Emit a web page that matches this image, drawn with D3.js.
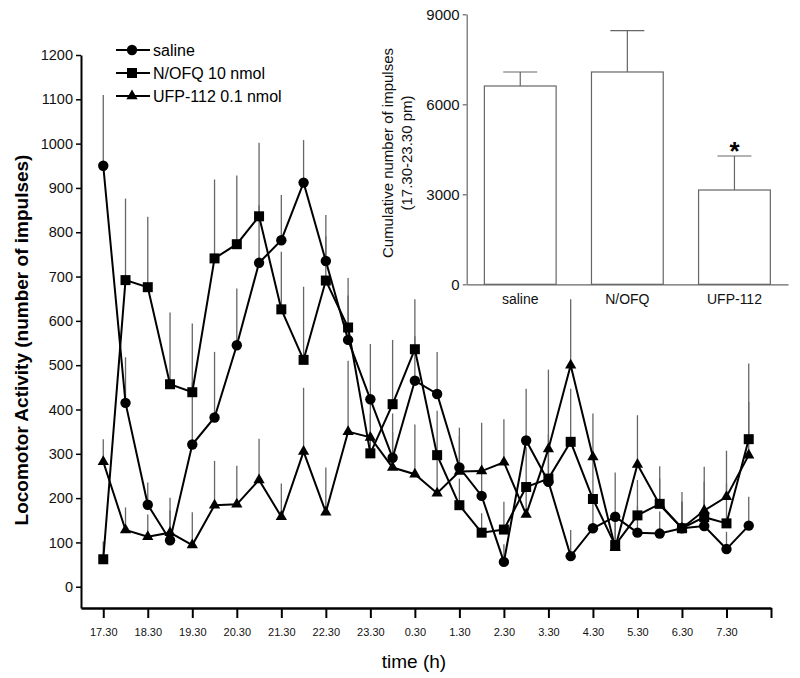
<!DOCTYPE html>
<html>
<head>
<meta charset="utf-8">
<script src="https://cdn.jsdelivr.net/npm/d3@7"></script>
<style>
  body { margin: 0; background: #fff; }
  svg { display: block; font-family: "Liberation Sans", Arial, sans-serif; }
</style>
</head>
<body>
<svg id="chart" width="800" height="678"></svg>
<script>
// ---- Data ----
const timeLabels = ["17.30","18.30","19.30","20.30","21.30","22.30","23.30","0.30","1.30","2.30","3.30","4.30","5.30","6.30","7.30"];
const yTicks = [0,100,200,300,400,500,600,700,800,900,1000,1100,1200];

const saline    = [950,415,185,105,321,382,545,731,782,912,735,557,423,291,465,435,269,205,56,330,237,69,132,158,122,120,132,137,85,138];
const salineErr = [160,103,50,96,140,148,128,130,102,96,104,100,125,100,100,95,90,70,40,117,80,59,70,100,60,50,82,60,39,65];

const nofq      = [62,692,676,457,439,741,773,836,626,512,691,585,301,412,536,297,184,122,129,225,244,327,198,94,161,187,132,157,143,333];
const nofqErr   = [40,184,159,162,155,178,155,166,130,165,100,112,90,145,113,100,60,44,63,90,100,120,90,60,80,85,60,80,90,171];

const ufp       = [282,128,113,122,94,184,186,241,158,305,168,350,337,269,254,211,260,261,281,163,311,500,293,88,276,185,132,172,203,297];
const ufpErr    = [51,51,50,50,74,100,87,93,75,144,101,160,80,80,112,80,80,109,97,60,179,149,98,60,111,60,60,99,104,120];

const seriesNames = ["saline","N/OFQ 10 nmol","UFP-112 0.1 nmol"];

const barCats = ["saline","N/OFQ","UFP-112"];
const barVals = [6610,7077,3143];
const barErr  = [467,1380,1134];
const barTicks = [0,3000,6000,9000];
const barSig = [false,false,true];

// ---- Setup ----
const svg = d3.select("#chart");
const FONT = '"Liberation Sans", Arial, sans-serif';

const x = d3.scaleLinear().domain([-0.5, 15]).range([81, 771]);
const y = d3.scaleLinear().domain([-48, 1200]).range([608, 55]);

const series = [
  {name: seriesNames[0], vals: saline, err: salineErr, sym: d3.symbolCircle, size: 85},
  {name: seriesNames[1], vals: nofq, err: nofqErr, sym: d3.symbolSquare, size: 100},
  {name: seriesNames[2], vals: ufp, err: ufpErr, sym: d3.symbolTriangle, size: 55}
];

// error bars (upper only)
const gErr = svg.append("g");
series.forEach(s => {
  gErr.selectAll(null).data(s.vals).join("line")
    .attr("x1", (d,i) => x(i*0.5)).attr("x2", (d,i) => x(i*0.5))
    .attr("y1", d => y(d)).attr("y2", (d,i) => y(d + s.err[i]))
    .attr("stroke", "#666").attr("stroke-width", 1.3);
});

// lines
const line = d3.line().x((d,i) => x(i*0.5)).y(d => y(d));
series.forEach(s => {
  svg.append("path").datum(s.vals).attr("d", line)
    .attr("fill", "none").attr("stroke", "#000").attr("stroke-width", 2);
});
// markers
series.forEach(s => {
  svg.append("g").selectAll("path").data(s.vals).join("path")
    .attr("transform", (d,i) => `translate(${x(i*0.5)},${y(d)})`)
    .attr("d", d3.symbol(s.sym, s.size)).attr("fill", "#000");
});

// axes
const yAxis = svg.append("g").attr("transform", "translate(81,0)")
  .call(d3.axisLeft(y).tickValues(yTicks).tickSize(5).tickSizeOuter(0).tickPadding(3).tickFormat(d3.format("d")));
yAxis.select(".domain").attr("stroke", "#000").attr("stroke-width", 2);
yAxis.selectAll(".tick line").attr("stroke", "#000").attr("stroke-width", 1.5);
yAxis.selectAll(".tick text").attr("font-family", FONT).attr("font-size", 14.5).attr("fill", "#111");

const xAxis = svg.append("g").attr("transform", "translate(0,608)")
  .call(d3.axisBottom(x).tickValues(d3.range(0, 16)).tickSize(10).tickSizeOuter(0)
    .tickFormat(i => timeLabels[i] || ""));
xAxis.select(".domain").attr("stroke", "#000").attr("stroke-width", 2.5);
xAxis.selectAll(".tick line").attr("stroke", "#000").attr("stroke-width", 2);
xAxis.selectAll(".tick text").attr("font-family", FONT).attr("font-size", 11).attr("fill", "#111")
  .attr("y", 20).attr("dy", "0.71em");

// axis titles
svg.append("text").attr("x", 414).attr("y", 668).attr("text-anchor", "middle")
  .attr("font-family", FONT).attr("font-size", 19).attr("fill", "#000").text("time (h)");
svg.append("text").attr("transform", "translate(28,340) rotate(-90)").attr("text-anchor", "middle")
  .attr("font-family", FONT).attr("font-size", 19).attr("font-weight", "bold").attr("fill", "#000")
  .text("Locomotor Activity (number of impulses)");

// legend
const legY = [50, 73, 96];
series.forEach((s, k) => {
  const g = svg.append("g").attr("transform", `translate(0,${legY[k]})`);
  g.append("line").attr("x1", 116).attr("x2", 150).attr("y1", 0).attr("y2", 0)
    .attr("stroke", "#000").attr("stroke-width", 2);
  g.append("path").attr("transform", "translate(132,0)").attr("d", d3.symbol(s.sym, s.size)).attr("fill", "#000");
  g.append("text").attr("x", 153).attr("y", 0).attr("dy", "0.35em")
    .attr("font-family", FONT).attr("font-size", 16).attr("fill", "#000").text(s.name);
});

// ---- Inset bar chart ----
const bx = d3.scaleBand().domain(barCats).range([466.7, 788]).paddingInner(0.33).paddingOuter(0.165);
const by = d3.scaleLinear().domain([0, 9000]).range([284.3, 14.3]);
const GRAY = "#666";

const gb = svg.append("g");
gb.selectAll("rect").data(barVals).join("rect")
  .attr("x", (d,i) => bx(barCats[i])).attr("width", bx.bandwidth())
  .attr("y", d => by(d)).attr("height", d => by(0) - by(d))
  .attr("fill", "#fff").attr("stroke", GRAY).attr("stroke-width", 1.2);
// error bars
const capW = 34;
barVals.forEach((v, i) => {
  const cx = bx(barCats[i]) + bx.bandwidth()/2;
  gb.append("line").attr("x1", cx).attr("x2", cx).attr("y1", by(v)).attr("y2", by(v + barErr[i]))
    .attr("stroke", GRAY).attr("stroke-width", 1.2);
  gb.append("line").attr("x1", cx - capW/2).attr("x2", cx + capW/2)
    .attr("y1", by(v + barErr[i])).attr("y2", by(v + barErr[i]))
    .attr("stroke", GRAY).attr("stroke-width", 1.2);
  if (barSig[i]) {
    gb.append("text").attr("x", cx).attr("y", by(v + barErr[i]) + 4).attr("text-anchor", "middle")
      .attr("font-family", FONT).attr("font-size", 26).attr("font-weight", "bold").attr("fill", "#000").text("*");
  }
});

const byAxis = svg.append("g").attr("transform", "translate(466.7,0)")
  .call(d3.axisLeft(by).tickValues(barTicks).tickSize(4).tickSizeOuter(0).tickPadding(3).tickFormat(d3.format("d")));
byAxis.select(".domain").attr("stroke", GRAY).attr("stroke-width", 1.2);
byAxis.selectAll(".tick line").attr("stroke", GRAY).attr("stroke-width", 1.2);
byAxis.selectAll(".tick text").attr("font-family", FONT).attr("font-size", 15).attr("fill", "#111");

const bxAxis = svg.append("g").attr("transform", "translate(0,284.3)")
  .call(d3.axisBottom(bx).tickSize(0).tickSizeOuter(0).tickPadding(10));
bxAxis.select(".domain").attr("stroke", GRAY).attr("stroke-width", 1.2);
bxAxis.selectAll(".tick text").attr("font-family", FONT).attr("font-size", 14).attr("fill", "#111");

svg.append("text").attr("transform", "translate(393,153) rotate(-90)").attr("text-anchor", "middle")
  .attr("font-family", FONT).attr("font-size", 15).attr("fill", "#111").text("Cumulative number of impulses");
svg.append("text").attr("transform", "translate(411.5,153) rotate(-90)").attr("text-anchor", "middle")
  .attr("font-family", FONT).attr("font-size", 15).attr("fill", "#111").text("(17.30-23.30 pm)");
</script>
</body>
</html>
